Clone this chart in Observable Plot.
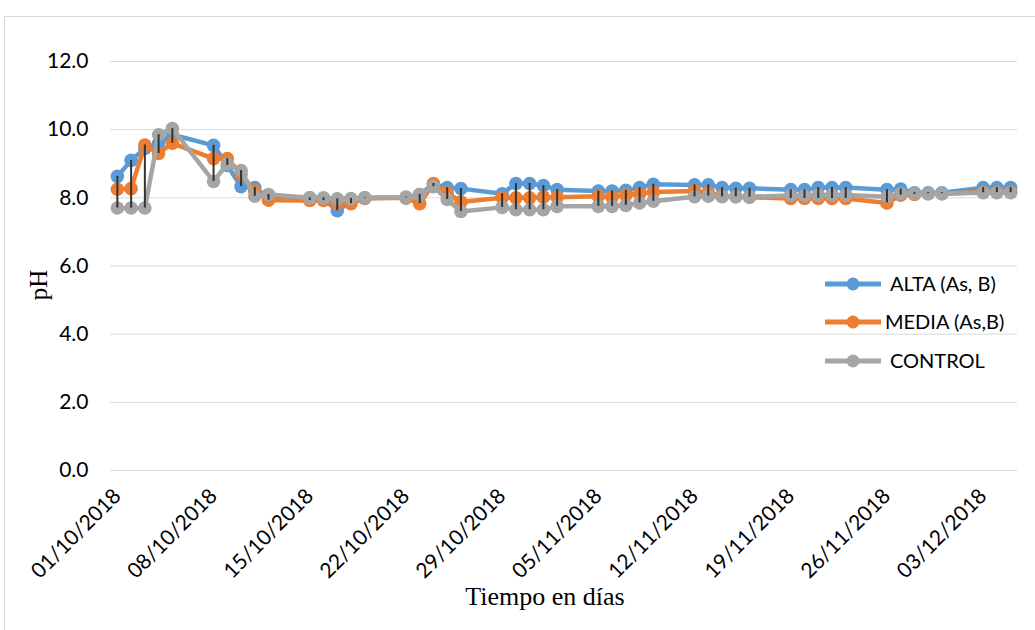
<!DOCTYPE html>
<html>
<head>
<meta charset="utf-8">
<script src="https://cdn.jsdelivr.net/npm/d3@7"></script>
<script src="https://cdn.jsdelivr.net/npm/@observablehq/plot@0.6"></script>
<style>
  html, body { margin: 0; padding: 0; background: #fff; }
  #chart { width: 1035px; height: 630px; position: relative; overflow: hidden; }
</style>
</head>
<body>
<div id="chart"></div>
<script>
const dates = [
  "2018-10-01","2018-10-02","2018-10-03","2018-10-04","2018-10-05",
  "2018-10-08","2018-10-09","2018-10-10","2018-10-11","2018-10-12",
  "2018-10-15","2018-10-16","2018-10-17","2018-10-18","2018-10-19",
  "2018-10-22","2018-10-23","2018-10-24","2018-10-25","2018-10-26",
  "2018-10-29","2018-10-30","2018-10-31","2018-11-01","2018-11-02",
  "2018-11-05","2018-11-06","2018-11-07","2018-11-08","2018-11-09",
  "2018-11-12","2018-11-13","2018-11-14","2018-11-15","2018-11-16",
  "2018-11-19","2018-11-20","2018-11-21","2018-11-22","2018-11-23",
  "2018-11-26","2018-11-27","2018-11-28","2018-11-29","2018-11-30",
  "2018-12-03","2018-12-04","2018-12-05"
];
const alta = [
  8.63, 9.10, 9.45, 9.60, 9.85,
  9.54, 8.95, 8.33, 8.30, 8.00,
  8.00, 7.98, 7.62, 7.90, 8.00,
  8.00, 8.10, 8.40, 8.30, 8.27,
  8.12, 8.42, 8.42, 8.36, 8.24,
  8.20, 8.20, 8.22, 8.30, 8.40,
  8.38, 8.38, 8.30, 8.28, 8.28,
  8.24, 8.24, 8.30, 8.30, 8.30,
  8.24, 8.26, 8.15, 8.15, 8.15,
  8.30, 8.30, 8.30
];
const media = [
  8.25, 8.27, 9.55, 9.30, 9.60,
  9.15, 9.15, 8.70, 8.20, 7.93,
  7.92, 7.92, 7.83, 7.83, 7.98,
  8.00, 7.83, 8.42, 8.15, 7.88,
  8.00, 8.00, 8.00, 8.02, 8.02,
  8.05, 8.02, 8.08, 8.12, 8.17,
  8.20, 8.15, 8.05, 8.03, 8.02,
  7.98, 7.98, 7.98, 7.98, 7.98,
  7.85, 8.08, 8.10, 8.12, 8.12,
  8.17, 8.17, 8.17
];
const control = [
  7.70, 7.70, 7.70, 9.85, 10.03,
  8.48, 9.00, 8.80, 8.05, 8.10,
  8.00, 8.00, 7.97, 7.98, 8.00,
  8.02, 8.10, 8.33, 7.95, 7.60,
  7.72, 7.65, 7.65, 7.65, 7.75,
  7.75, 7.75, 7.78, 7.85, 7.90,
  8.03, 8.05, 8.03, 8.03, 8.03,
  8.07, 8.07, 8.08, 8.08, 8.08,
  8.03, 8.12, 8.12, 8.12, 8.12,
  8.15, 8.15, 8.15
];
const seriesNames = ["ALTA (As, B)", "MEDIA (As,B)", "CONTROL"];
const seriesColors = ["#5B9BD5", "#ED7D31", "#A5A5A5"];
const xTickLabels = ["01/10/2018","08/10/2018","15/10/2018","22/10/2018","29/10/2018","05/11/2018","12/11/2018","19/11/2018","26/11/2018","03/12/2018"];
const yTicks = [0, 2, 4, 6, 8, 10, 12];

const parseISO = d3.utcParse("%Y-%m-%d");
const parseDMY = d3.utcParse("%d/%m/%Y");
const fmtDMY = d3.utcFormat("%d/%m/%Y");
const xTicks = xTickLabels.map(parseDMY);

const rows = [];
[alta, media, control].forEach((vals, si) => {
  vals.forEach((v, i) => rows.push({date: parseISO(dates[i]), value: v, series: seriesNames[si]}));
});
const hilo = dates.map((d, i) => ({
  date: parseISO(d),
  lo: Math.min(alta[i], media[i], control[i]),
  hi: Math.max(alta[i], media[i], control[i])
}));

const xDomain = [new Date(Date.UTC(2018, 8, 30, 12)), new Date(Date.UTC(2018, 11, 5, 12))];

const marks = [
  Plot.gridY(yTicks, {stroke: "#d9d9d9", strokeOpacity: 1, strokeWidth: 1}),
  Plot.axisY(yTicks, {tickSize: 0, tickPadding: 22, tickFormat: d => d.toFixed(1), label: null, fontSize: 21, fill: "#000"}),
  Plot.axisX(xTicks, {tickSize: 0, tickPadding: 22, tickRotate: -45, tickFormat: fmtDMY, label: null, fontSize: 21, fill: "#000"})
];
seriesNames.forEach((s, si) => {
  const data = rows.filter(r => r.series === s);
  marks.push(Plot.line(data, {x: "date", y: "value", stroke: seriesColors[si], strokeWidth: 4.5, curve: "linear"}));
  marks.push(Plot.dot(data, {x: "date", y: "value", r: 6.8, fill: seriesColors[si], stroke: "none"}));
});
marks.push(Plot.ruleX(hilo, {x: "date", y1: "lo", y2: "hi", stroke: "#333", strokeWidth: 2}));

const plot = Plot.plot({
  width: 1035,
  height: 630,
  marginLeft: 110,
  marginRight: 18,
  marginTop: 61,
  marginBottom: 160,
  style: {fontFamily: "Lato, 'Open Sans', sans-serif", fontSize: "20px", background: "#fff", color: "#000"},
  x: {type: "utc", domain: xDomain},
  y: {domain: [0, 12]},
  marks
});
document.getElementById("chart").appendChild(plot);

const svg = d3.select(plot);
// chart border
svg.insert("rect", ":first-child")
  .attr("x", 4.5).attr("y", 16.5).attr("width", 1200).attr("height", 800)
  .attr("fill", "none").attr("stroke", "#d9d9d9").attr("stroke-width", 1);

// axis titles
svg.append("text")
  .attr("transform", "translate(47,285) rotate(-90)")
  .attr("text-anchor", "middle")
  .attr("font-family", "'Liberation Serif', 'Times New Roman', serif")
  .attr("font-size", 25).attr("fill", "#000")
  .text("pH");
svg.append("text")
  .attr("x", 545).attr("y", 605)
  .attr("text-anchor", "middle")
  .attr("font-family", "'Liberation Serif', 'Times New Roman', serif")
  .attr("font-size", 26).attr("fill", "#000")
  .text("Tiempo en días");

// legend
const legY = [284, 322, 361];
const legTextX = [890, 885, 890];
seriesNames.forEach((s, i) => {
  const g = svg.append("g");
  g.append("line").attr("x1", 825).attr("x2", 881).attr("y1", legY[i]).attr("y2", legY[i])
    .attr("stroke", seriesColors[i]).attr("stroke-width", 5);
  g.append("circle").attr("cx", 853).attr("cy", legY[i]).attr("r", 6.5).attr("fill", seriesColors[i]);
  g.append("text").attr("x", legTextX[i]).attr("y", legY[i]).attr("dy", "0.35em")
    .attr("text-anchor", "start")
    .attr("font-family", "Lato, 'Open Sans', sans-serif").attr("font-size", 20).attr("fill", "#000")
    .text(s);
});
</script>
</body>
</html>
